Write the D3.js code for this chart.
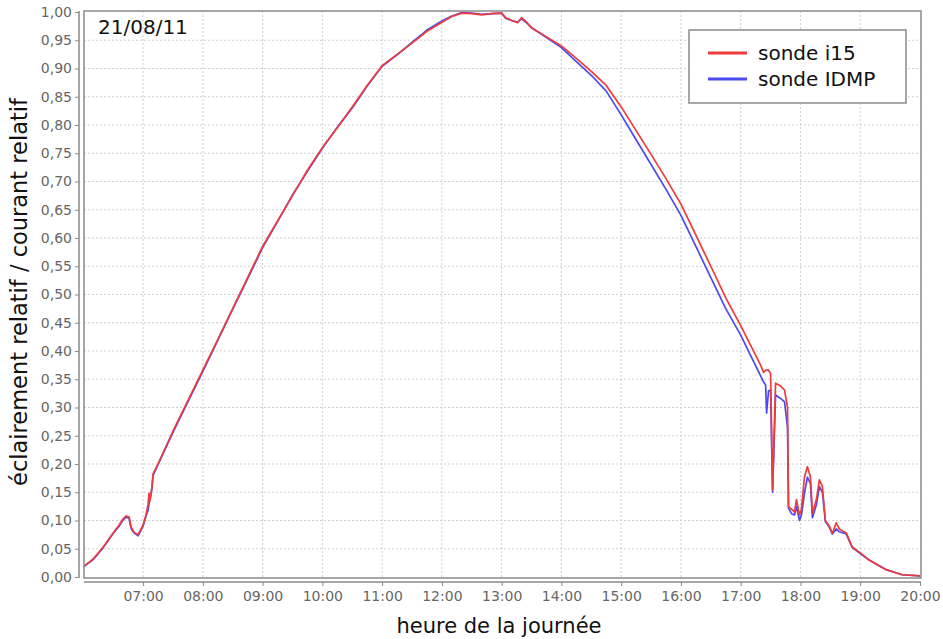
<!DOCTYPE html>
<html><head><meta charset="utf-8">
<script src="https://cdn.jsdelivr.net/npm/d3@7"></script>
<style>
html,body{margin:0;padding:0;background:#fff;}
svg{display:block;font-family:"DejaVu Sans",sans-serif;}
</style></head>
<body><svg id="c" width="943" height="639"></svg>
<script>
const times = ["06:00","06:10","06:20","06:30","06:36","06:40","06:43","06:46","06:48","06:51","06:55","07:00","07:03","07:05","07:06","07:07","07:09","07:10","07:15","07:30","07:45","08:00","08:15","08:30","08:45","09:00","09:15","09:30","09:45","10:00","10:15","10:30","10:45","11:00","11:15","11:30","11:45","12:00","12:10","12:20","12:30","12:40","12:50","13:00","13:04","13:10","13:16","13:20","13:25","13:30","13:45","14:00","14:15","14:30","14:45","15:00","15:15","15:30","15:45","16:00","16:15","16:30","16:45","17:00","17:10","17:20","17:23","17:25","17:26","17:28","17:30","17:32","17:35","17:40","17:44","17:47","17:48","17:51","17:54","17:56","17:59","18:01","18:04","18:07","18:10","18:12","18:16","18:19","18:22","18:25","18:29","18:32","18:36","18:39","18:46","18:52","19:02","19:09","19:26","19:42","20:00"];
const i15 = [0.018,0.032,0.053,0.078,0.092,0.103,0.108,0.106,0.088,0.079,0.075,0.092,0.110,0.128,0.148,0.135,0.160,0.182,0.200,0.258,0.312,0.366,0.420,0.475,0.530,0.585,0.630,0.675,0.720,0.760,0.795,0.832,0.870,0.905,0.925,0.945,0.966,0.982,0.992,0.998,0.997,0.995,0.997,0.998,0.990,0.985,0.981,0.990,0.982,0.972,0.956,0.940,0.918,0.895,0.870,0.832,0.790,0.748,0.705,0.660,0.605,0.550,0.494,0.445,0.410,0.375,0.362,0.366,0.366,0.366,0.360,0.154,0.343,0.338,0.331,0.300,0.124,0.120,0.115,0.137,0.110,0.120,0.177,0.195,0.177,0.113,0.137,0.172,0.160,0.100,0.090,0.077,0.096,0.085,0.078,0.053,0.040,0.030,0.013,0.004,0.002];
const idmp = [0.018,0.031,0.052,0.077,0.090,0.101,0.106,0.104,0.086,0.078,0.073,0.090,0.108,0.118,0.130,0.138,0.158,0.180,0.199,0.256,0.310,0.364,0.419,0.474,0.528,0.583,0.629,0.676,0.718,0.759,0.796,0.830,0.869,0.904,0.924,0.946,0.968,0.984,0.993,0.999,0.998,0.996,0.997,0.998,0.989,0.985,0.982,0.988,0.981,0.972,0.955,0.937,0.912,0.888,0.860,0.818,0.774,0.730,0.686,0.640,0.585,0.530,0.475,0.428,0.392,0.356,0.345,0.340,0.290,0.330,0.330,0.150,0.322,0.316,0.310,0.265,0.122,0.112,0.110,0.125,0.100,0.110,0.148,0.177,0.165,0.105,0.128,0.160,0.150,0.098,0.088,0.076,0.085,0.080,0.076,0.052,0.039,0.030,0.013,0.004,0.002];
const xTicks = ["07:00","08:00","09:00","10:00","11:00","12:00","13:00","14:00","15:00","16:00","17:00","18:00","19:00","20:00"];
const yTicks = [0,0.05,0.10,0.15,0.20,0.25,0.30,0.35,0.40,0.45,0.50,0.55,0.60,0.65,0.70,0.75,0.80,0.85,0.90,0.95,1.00];
const seriesNames = ["sonde i15","sonde IDMP"];
const seriesColors = ["#ee3b3b","#4a4af0"];
const dateLabel = "21/08/11";
const xTitle = "heure de la journée";
const yTitle = "éclairement relatif / courant relatif";

const parse = d3.timeParse("%H:%M");
const svg = d3.select("#c");
const L = 84, R = 921, T = 11, B = 578;
const x = d3.scaleTime().domain([parse("06:00"), parse("20:00")]).range([83.3, 920]);
const y = d3.scaleLinear().domain([0, 1]).range([577, 12]);
const fmt = v => d3.format(".2f")(v).replace(".", ",");

// grid
const g = svg.append("g");
g.selectAll("line.h").data(yTicks.slice(1, -1)).join("line")
  .attr("x1", L).attr("x2", R).attr("y1", d => y(d)).attr("y2", d => y(d))
  .attr("stroke", "#cfcfcf").attr("stroke-width", 1).attr("stroke-dasharray", "2,2");
g.selectAll("line.v").data(xTicks.slice(0, -1)).join("line")
  .attr("x1", d => x(parse(d))).attr("x2", d => x(parse(d))).attr("y1", T).attr("y2", B)
  .attr("stroke", "#cfcfcf").attr("stroke-width", 1).attr("stroke-dasharray", "2,2");

// lines
const data = times.map((t, i) => ({t: parse(t), a: i15[i], b: idmp[i]}));
const lineB = d3.line().x(d => x(d.t)).y(d => y(d.b));
const lineA = d3.line().x(d => x(d.t)).y(d => y(d.a));
svg.append("path").datum(data).attr("d", lineB).attr("fill", "none")
  .attr("stroke", seriesColors[1]).attr("stroke-width", 1.7).attr("stroke-linejoin", "round");
svg.append("path").datum(data).attr("d", lineA).attr("fill", "none")
  .attr("stroke", seriesColors[0]).attr("stroke-width", 1.7).attr("stroke-linejoin", "round");

// plot box
svg.append("rect").attr("x", L).attr("y", T).attr("width", R - L).attr("height", B - T)
  .attr("fill", "none").attr("stroke", "#8a8a8a").attr("stroke-width", 1.5);

// axes
const ya = d3.axisLeft(y).tickValues(yTicks).tickFormat(fmt).tickSize(4).tickPadding(3);
const yg = svg.append("g").attr("transform", "translate(79,0)").call(ya);
yg.select(".domain").attr("d", `M0,${T}V${B}`).attr("stroke", "#8a8a8a").attr("stroke-width", 1.5);
yg.selectAll(".tick line").attr("stroke", "#8a8a8a");
yg.selectAll(".tick text").attr("fill", "#666").style("font-size", "14px").style("font-family", "DejaVu Sans");

const xa = d3.axisBottom(x).tickValues(xTicks.map(parse)).tickFormat(d3.timeFormat("%H:%M")).tickSize(4).tickPadding(5);
const xg = svg.append("g").attr("transform", "translate(0,582)").call(xa);
xg.select(".domain").attr("d", `M${L},0H${R}`).attr("stroke", "#8a8a8a").attr("stroke-width", 1.5);
xg.selectAll(".tick line").attr("stroke", "#8a8a8a");
xg.selectAll(".tick text").attr("fill", "#666").style("font-size", "14px").style("font-family", "DejaVu Sans");

// titles
svg.append("text").attr("x", 499).attr("y", 633).attr("text-anchor", "middle")
  .style("font-size", "21px").attr("fill", "#111").text(xTitle);
svg.append("text").attr("transform", "translate(27,292) rotate(-90)").attr("text-anchor", "middle")
  .style("font-size", "22.5px").attr("fill", "#111").text(yTitle);
svg.append("text").attr("x", 98).attr("y", 34).style("font-size", "20px").attr("fill", "#111").text(dateLabel);

// legend
const lg = svg.append("g");
lg.append("rect").attr("x", 689).attr("y", 30).attr("width", 217).attr("height", 73)
  .attr("fill", "#fff").attr("stroke", "#8a8a8a").attr("stroke-width", 1.5);
seriesNames.forEach((n, i) => {
  const yy = 53 + i * 26;
  lg.append("line").attr("x1", 708).attr("x2", 747).attr("y1", yy).attr("y2", yy)
    .attr("stroke", seriesColors[i]).attr("stroke-width", 3);
  lg.append("text").attr("x", 758).attr("y", yy + 7).style("font-size", "20px").attr("fill", "#111").text(n);
});
</script></body></html>
